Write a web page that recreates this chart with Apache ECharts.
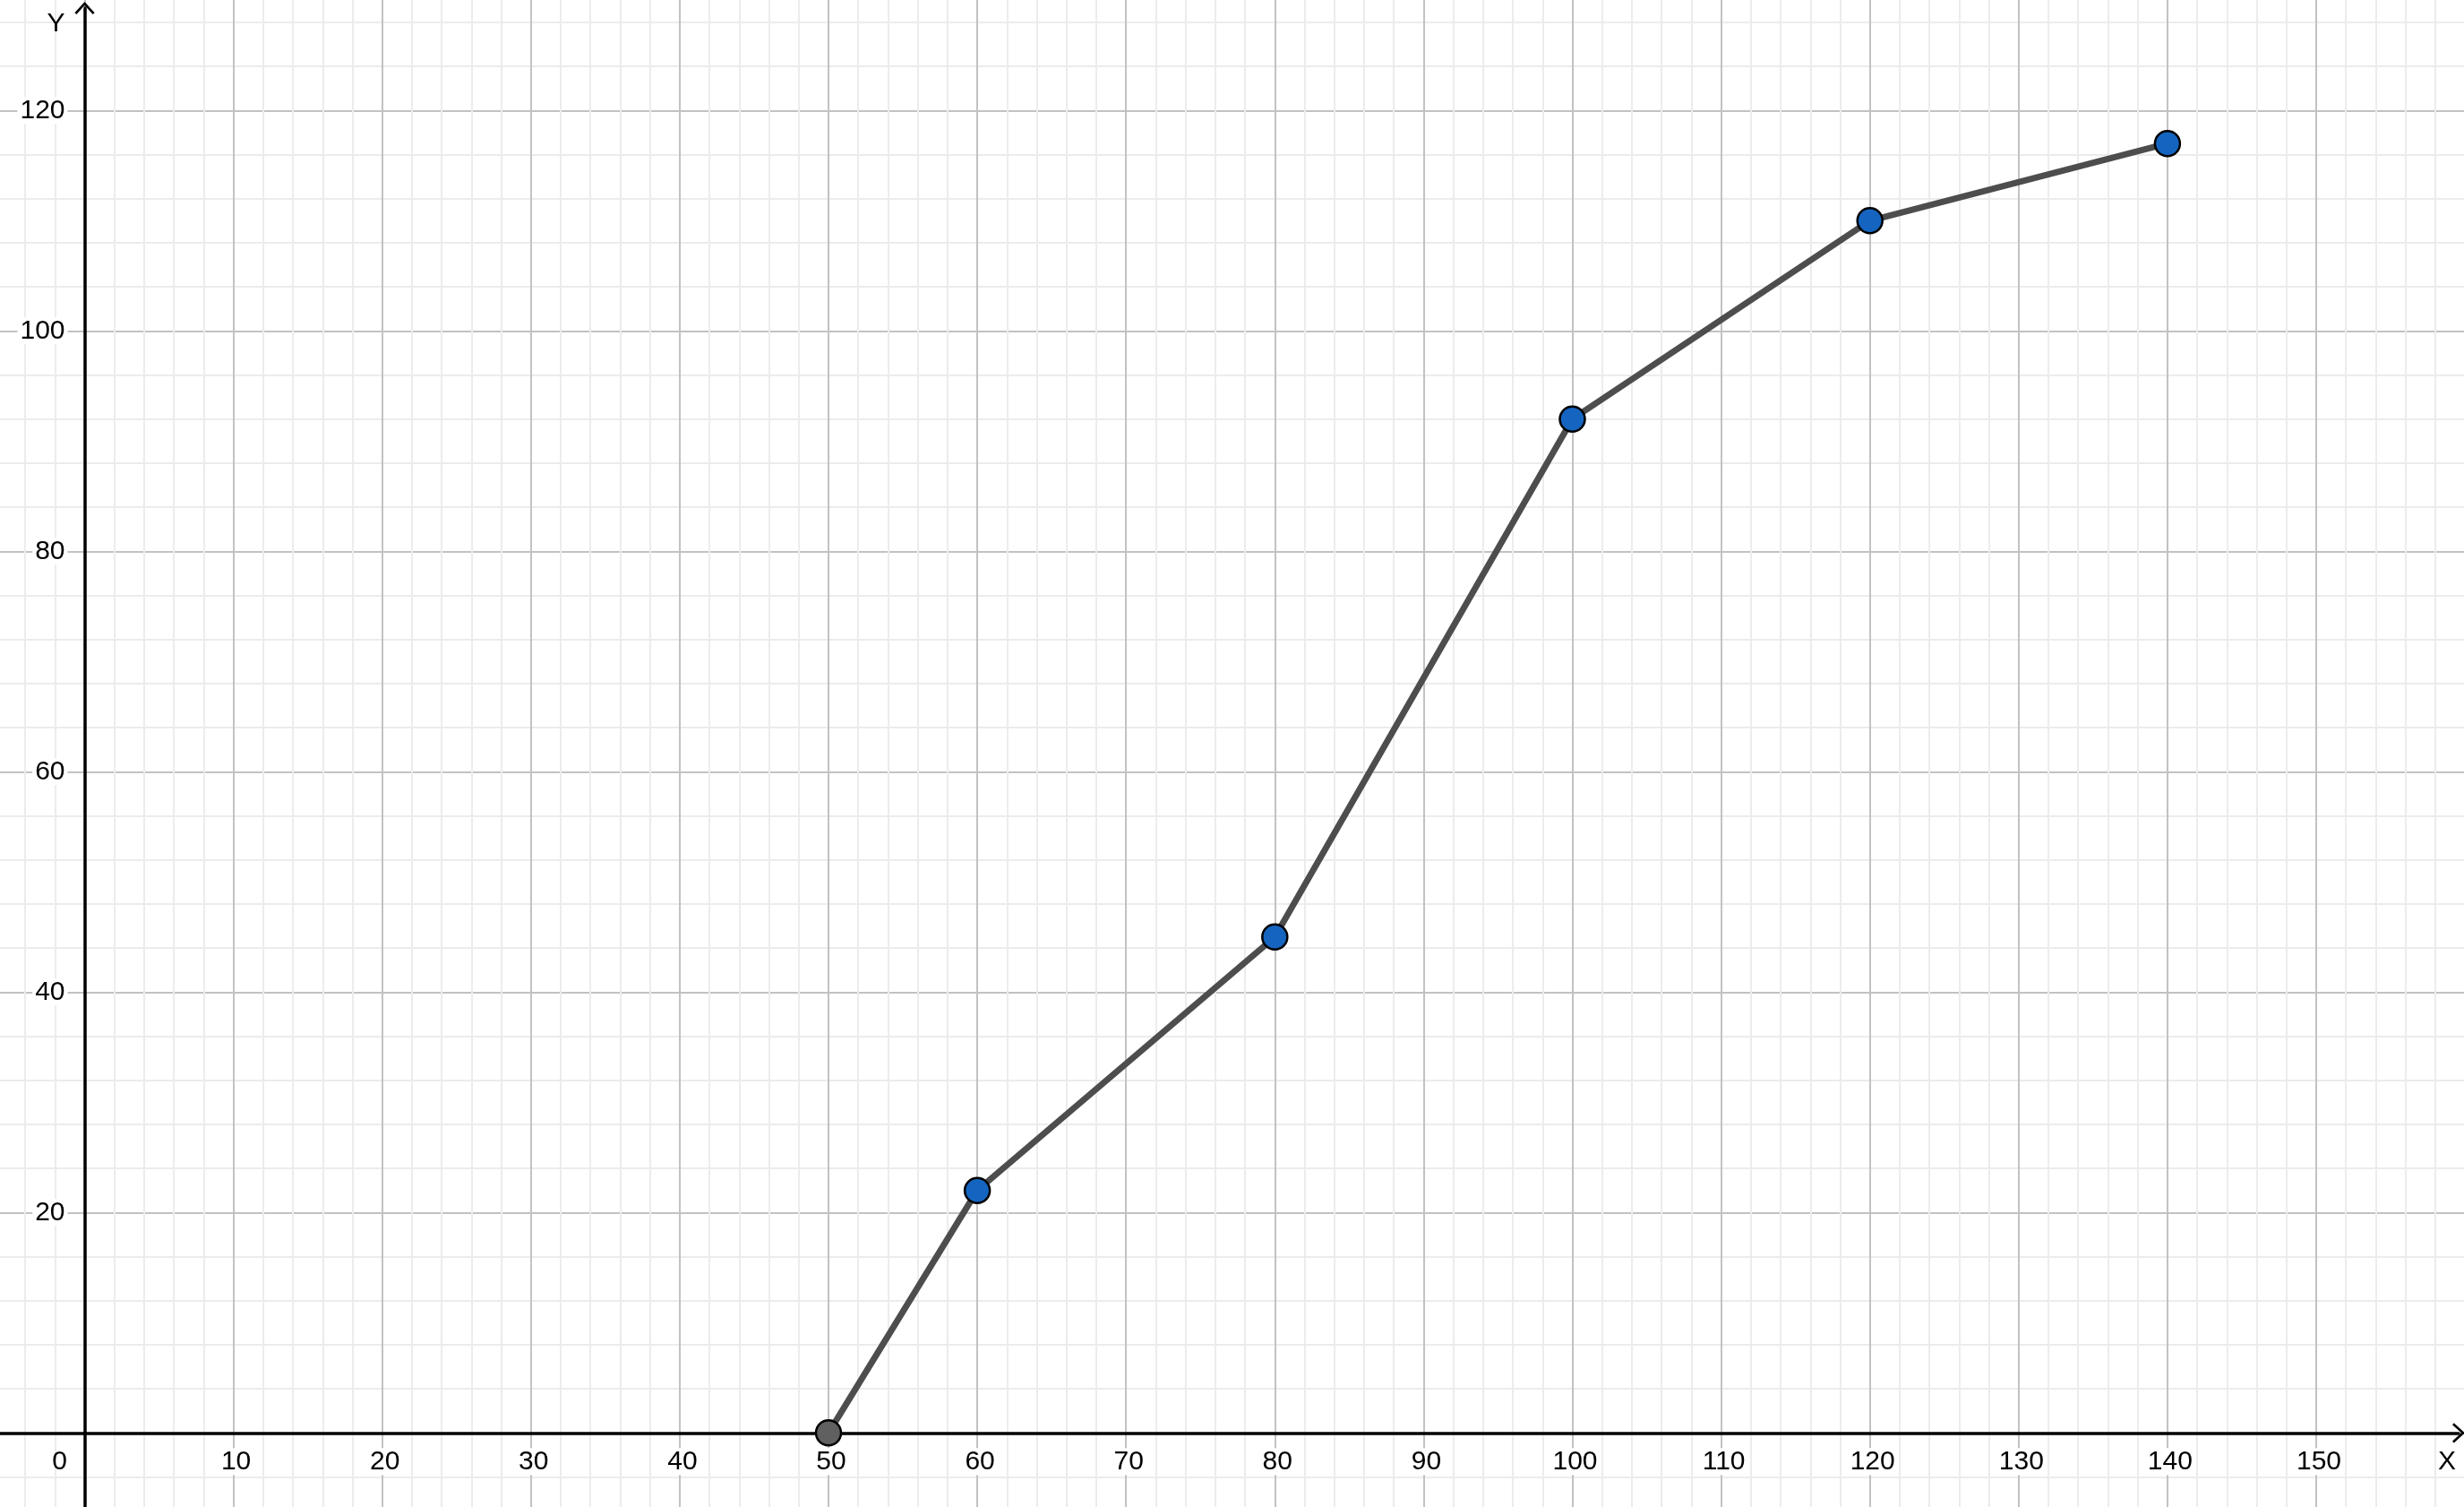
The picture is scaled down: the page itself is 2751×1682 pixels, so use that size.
<!DOCTYPE html>
<html>
<head>
<meta charset="utf-8">
<script src="https://cdn.jsdelivr.net/npm/echarts@6/dist/echarts.min.js"></script>
<style>
  html, body { margin: 0; padding: 0; background: #fff; }
  #chart { width: 2751px; height: 1682px; }
</style>
</head>
<body>
<div id="chart"></div>
<script>
// data
const xValues = [50, 60, 80, 100, 120, 140];
const yValues = [0, 22, 45, 92, 110, 117];
const xLabelRange = [0, 150];
const yLabelRange = [20, 120];

const FONT = 'Liberation Sans, Arial, sans-serif';
const MAJOR = '#c2c2c2';
const MINOR = '#ececec';
// open chevron pointing up, the axis code rotates it
const CHEVRON = 'path://M0,11 L10,0 L20,11 L18.2,12.6 L10,3.6 L1.8,12.6 Z';

const chart = echarts.init(document.getElementById('chart'));

const txt = { fontFamily: FONT, fontSize: 30, color: '#000' };
// tick labels get a white box that cuts the grid line, the origin "0" does not
const labelRich = {
    xn: { ...txt, backgroundColor: '#fff', padding: [0, 3, 0, 9] },
    yn: { ...txt, backgroundColor: '#fff', padding: [0, 3] },
    o: { ...txt, padding: [0, 56, 0, 0] }
};

// background grid is a bit bigger than the canvas so the ticks land on round numbers;
// its axes are pulled in with a negative offset so the labels sit on the zero lines
chart.setOption({
    animation: false,
    backgroundColor: '#fff',
    grid: [
        { left: -71.6, right: -1.1, top: -122.7, bottom: -163.3, outerBoundsMode: 'none', containLabel: false },
        // visible window, only used for the two arrowed axis lines
        { left: 0, right: 6, top: 9, bottom: 0, outerBoundsMode: 'none', containLabel: false }
    ],
    xAxis: [{
        type: 'value', gridIndex: 0, min: -10, max: 160, interval: 10,
        position: 'bottom', offset: -246,
        axisLine: { show: false, onZero: false },
        axisTick: { show: false },
        minorTick: { show: false, splitNumber: 5 },
        splitLine: { show: true, lineStyle: { color: MAJOR, width: 2 } },
        minorSplitLine: { show: true, lineStyle: { color: MINOR, width: 2 } },
        axisLabel: {
            show: true, margin: 17, hideOverlap: false,
            showMinLabel: true, showMaxLabel: true,
            ...txt,
            formatter: v => {
                if (v < xLabelRange[0] || v > xLabelRange[1]) return '';
                if (v === 0) return '{o|0}';
                return '{xn|' + v + '}';
            },
            rich: labelRich
        }
    }, {
        type: 'value', gridIndex: 1, min: -5.69, max: 159.57,
        name: 'X', nameLocation: 'end', nameGap: -13,
        nameTextStyle: { ...txt, align: 'center', verticalAlign: 'top', padding: [17, 0, 0, 0] },
        axisLine: {
            show: true, onZero: true,
            symbol: ['none', CHEVRON], symbolSize: [26, 14], symbolOffset: [0, 0],
            lineStyle: { color: '#000', width: 3.5 }
        },
        axisTick: { show: false }, axisLabel: { show: false },
        splitLine: { show: false }
    }],
    yAxis: [{
        type: 'value', gridIndex: 0, min: -20, max: 140, interval: 20,
        position: 'left', offset: -166.1,
        axisLine: { show: false, onZero: false },
        axisTick: { show: false },
        minorTick: { show: false, splitNumber: 5 },
        splitLine: { show: true, lineStyle: { color: MAJOR, width: 2 } },
        minorSplitLine: { show: true, lineStyle: { color: MINOR, width: 2 } },
        axisLabel: {
            show: true, margin: 19, hideOverlap: false,
            ...txt,
            formatter: v => (v < yLabelRange[0] || v > yLabelRange[1]) ? '' : '{yn|' + v + '}',
            rich: labelRich
        }
    }, {
        type: 'value', gridIndex: 1, min: -6.72, max: 129.29,
        name: 'Y', nameLocation: 'end', nameGap: -18,
        nameTextStyle: { ...txt, align: 'right', verticalAlign: 'middle', padding: [0, 22, 0, 0] },
        axisLine: {
            show: true, onZero: true,
            symbol: ['none', CHEVRON], symbolSize: [26, 14], symbolOffset: [0, 0],
            lineStyle: { color: '#000', width: 3.5 }
        },
        axisTick: { show: false }, axisLabel: { show: false },
        splitLine: { show: false }
    }],
    series: [{
        type: 'line',
        xAxisIndex: 0, yAxisIndex: 0,
        data: xValues.map((x, i) => [x, yValues[i]]),
        z: 5,
        symbol: 'circle',
        symbolSize: 28,
        lineStyle: { color: '#4d4d4d', width: 7 },
        itemStyle: {
            color: p => p.dataIndex === 0 ? '#606060' : '#1565c0',
            borderColor: '#000',
            borderWidth: 2.5
        },
        emphasis: { disabled: true }
    }]
});
</script>
</body>
</html>
